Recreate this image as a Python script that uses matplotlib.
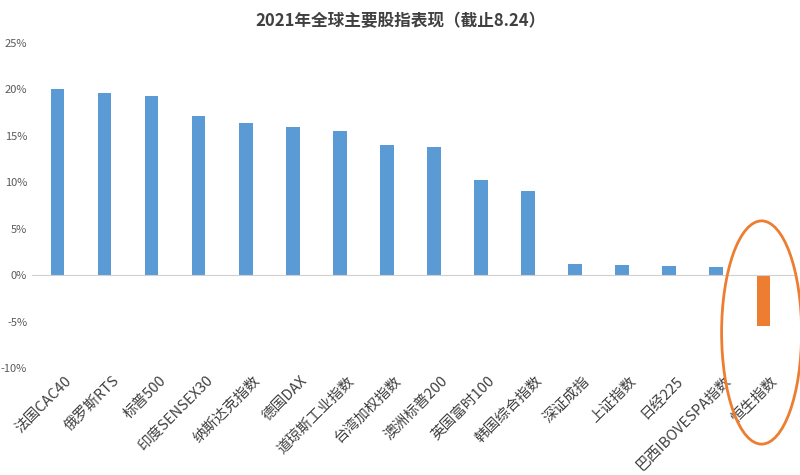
import matplotlib
matplotlib.use("Agg")
import matplotlib.pyplot as plt
from matplotlib.patches import Ellipse
from matplotlib.ticker import FuncFormatter

plt.rcParams['font.family'] = ['Noto Sans CJK SC', 'DejaVu Sans']

categories = ["法国CAC40", "俄罗斯RTS", "标普500", "印度SENSEX30", "纳斯达克指数", "德国DAX",
              "道琼斯工业指数", "台湾加权指数", "澳洲标普200", "英国富时100", "韩国综合指数",
              "深证成指", "上证指数", "日经225", "巴西IBOVESPA指数", "恒生指数"]
values = [20.0, 19.6, 19.3, 17.1, 16.4, 15.9, 15.5, 14.0, 13.8, 10.2, 9.1, 1.2, 1.1, 1.0, 0.9, -5.5]

fig = plt.figure(figsize=(8, 4.75), dpi=100)
ax = fig.add_axes([0.04, 0.225, 0.955, 0.685])
colors = ["#5B9BD5" if v >= 0 else "#ED7D31" for v in values]
x = range(len(values))
ax.bar(x, values, width=0.28, color=colors)
ax.set_ylim(-10, 25)
ax.set_yticks(range(-10, 26, 5))
ax.yaxis.set_major_formatter(FuncFormatter(lambda v, p: f"{int(v)}%"))
ax.set_xlim(-0.55, len(values) - 0.3)
ax.set_xticks(list(x))
ax.set_xticklabels([])
for i, c in enumerate(categories):
    ax.text(i + 0.15, -10.6, c, rotation=45, ha='right', va='top', fontsize=10.5, color='#404040',
            rotation_mode='anchor', transform=ax.transData, clip_on=False)
ax.axhline(0, color='#d0d0d0', lw=0.8)
for s in ["top", "right", "left", "bottom"]:
    ax.spines[s].set_visible(False)
ax.tick_params(axis='both', length=0, labelsize=8, colors='#595959')
fig.suptitle("2021年全球主要股指表现（截止8.24）", y=0.975, fontsize=12, fontweight='bold', color='#404040')

ell = Ellipse((0.952, 0.30), 0.1, 0.47, transform=fig.transFigure, fill=False,
              edgecolor='#ED7D31', lw=2)
fig.add_artist(ell)
fig.savefig("out.png")
